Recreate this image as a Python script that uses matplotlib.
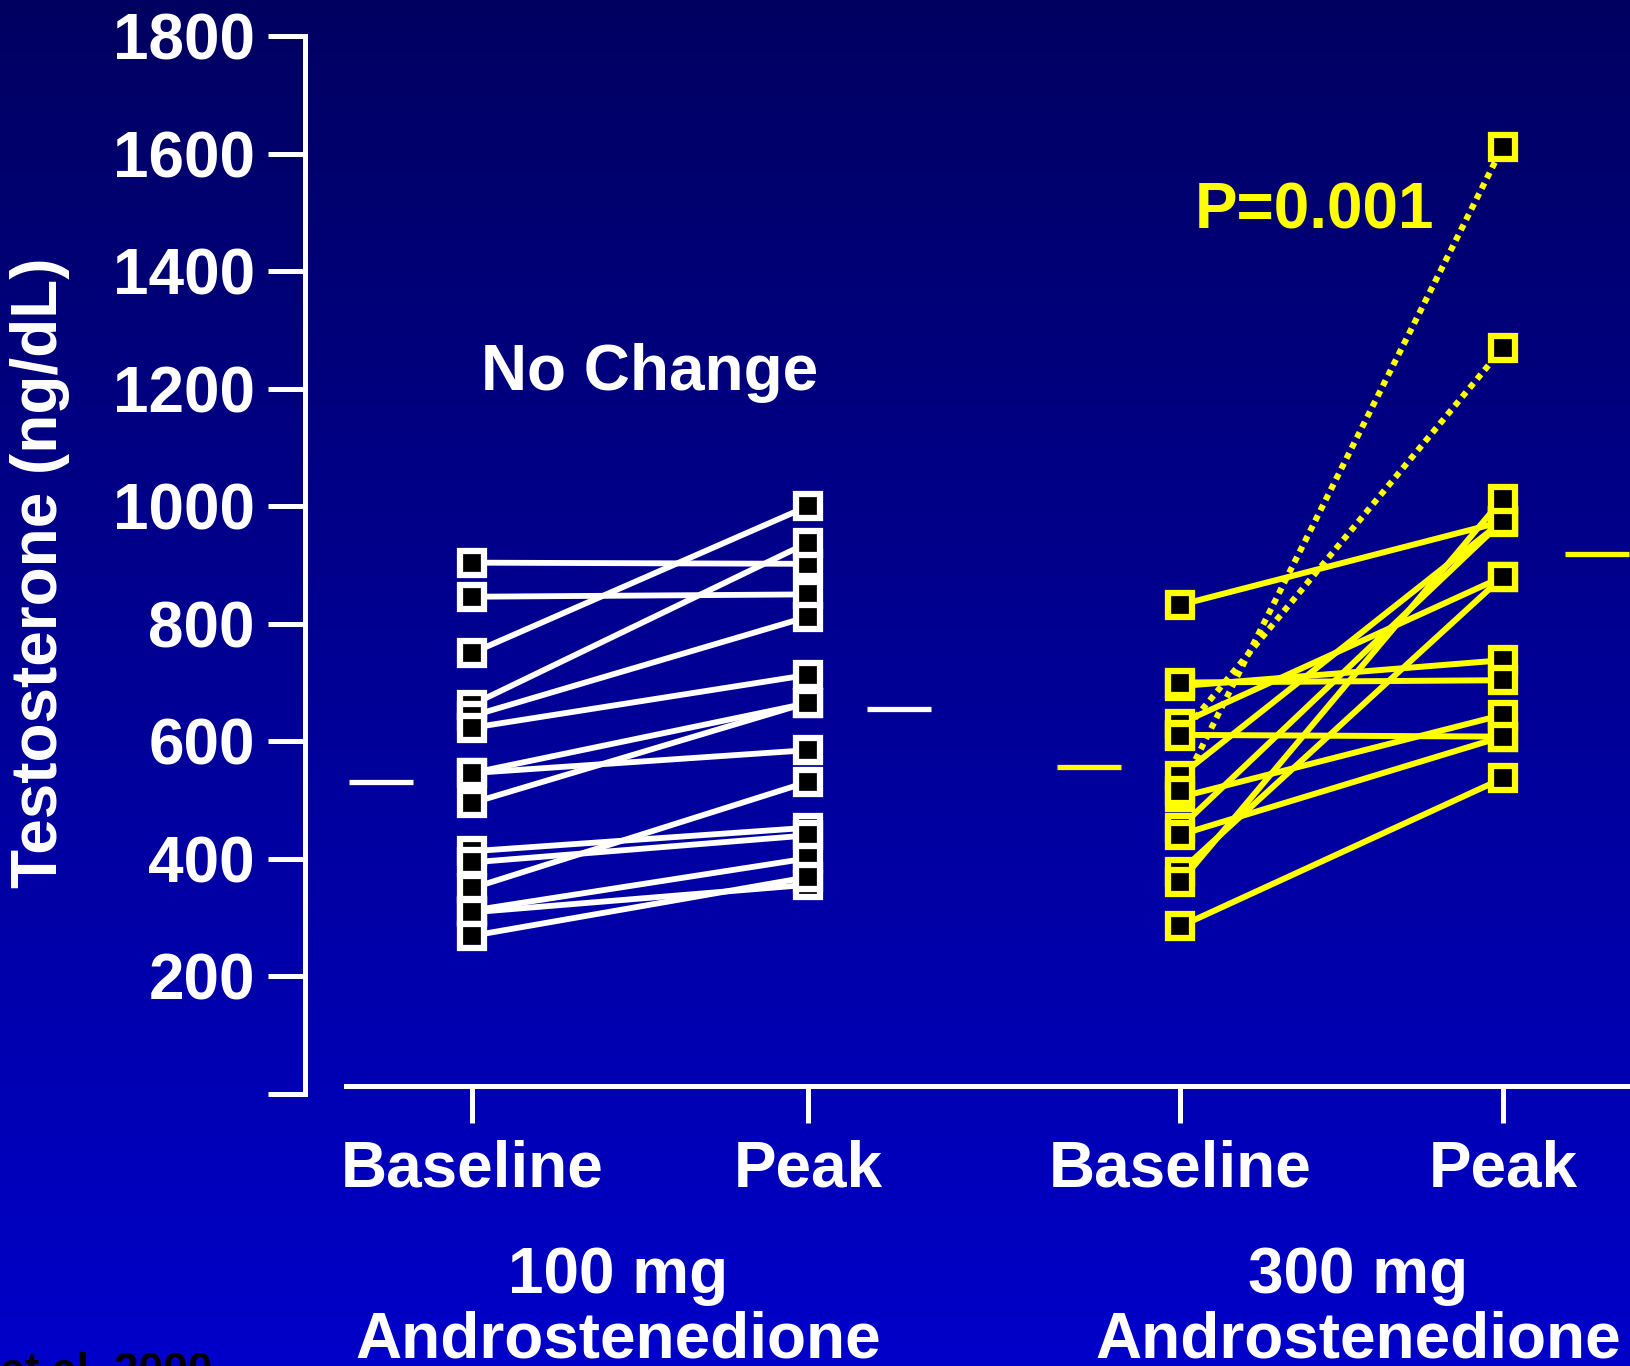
import numpy as np
import matplotlib
matplotlib.use('Agg')
import matplotlib.pyplot as plt

plt.rcParams['font.family'] = ['Liberation Sans', 'DejaVu Sans']
plt.rcParams['font.weight'] = 'bold'

# Testosterone (ng/dL), one entry per subject
dose100_baseline = [904, 846, 750, 662, 643, 623, 546, 546, 495, 413, 394, 350, 312, 309, 269]
dose100_peak = [902, 850, 1000, 938, 812, 713, 665, 585, 666, 453, 440, 531, 401, 356, 369]

dose300_baseline = [832, 694, 700, 630, 611, 541, 505, 453, 441, 378, 360, 285]
dose300_peak = [974, 738, 704, 880, 608, 975, 645, 975, 608, 880, 1013, 537]
# two subjects drawn with dotted lines
dose300_dot_baseline = [516, 609]
dose300_dot_peak = [1612, 1269]

# group means (baseline, peak)
dose100_mean = [531, 655]
dose300_mean = [556, 919]

tick_labels = ['Baseline', 'Peak', 'Baseline', 'Peak']
group_labels = ['100 mg\nAndrostenedione', '300 mg\nAndrostenedione']

W, H = 1630, 1366
WHITE = '#ffffff'
YELLOW = '#ffff00'
FS = 46

fig = plt.figure(figsize=(W / 100, H / 100), dpi=100)

# blue gradient backdrop
bg = fig.add_axes([0, 0, 1, 1], zorder=-10)
t = np.linspace(0, 1, 256)[:, None, None]
top = np.array([0.0, 0.0, 0.38])
bottom = np.array([0.0, 0.0, 0.79])
bg.imshow(top + (bottom - top) * t, aspect='auto', extent=[0, 1, 0, 1])
bg.axis('off')

# axes placed in pixel terms: y spine at x=305, 0..1800 spans y=1094..36
px_left, px_top, px_bot = 305, 36, 1094
ax = fig.add_axes([px_left / W, 1 - px_bot / H, (W - px_left) / W, (px_bot - px_top) / H])
ax.set_facecolor('none')

unit = 336.3                     # pixels per x unit
x0_px = 471.7                    # pixel of x = 1
xpos = [1.0, 2.0, 3.106, 4.066]  # Baseline / Peak for each dose
ax.set_xlim(1 - (x0_px - px_left) / unit, 1 + (W - x0_px) / unit)
ax.set_ylim(0, 1800)

for s in ['top', 'right']:
    ax.spines[s].set_visible(False)
ax.spines['left'].set_bounds(0, 1800)
ax.spines['left'].set_color(WHITE)
ax.spines['left'].set_linewidth(3.6)
ax.spines['bottom'].set_position(('data', 14))
ax.spines['bottom'].set_bounds(1 - (x0_px - 346) / unit, 1 + (W - x0_px) / unit)
ax.spines['bottom'].set_color(WHITE)
ax.spines['bottom'].set_linewidth(3.6)

yt = list(range(0, 1801, 200))
ax.set_yticks(yt)
ax.set_yticklabels(['' if v == 0 else str(v) for v in yt])
ax.tick_params(axis='y', direction='out', length=26.6, width=3.6, colors=WHITE,
               labelsize=FS, pad=9.4)
ax.set_xticks(xpos)
ax.set_xticklabels(tick_labels)
ax.tick_params(axis='x', direction='out', length=26.6, width=3.6, colors=WHITE,
               labelsize=FS, pad=12)

# subject lines first, squares on top
for b, p in zip(dose100_baseline, dose100_peak):
    ax.plot([xpos[0], xpos[1]], [b, p], color=WHITE, lw=4.2, solid_capstyle='butt', zorder=2)
for b, p in zip(dose300_baseline, dose300_peak):
    ax.plot([xpos[2], xpos[3]], [b, p], color=YELLOW, lw=4.3, solid_capstyle='butt', zorder=2)
for b, p in zip(dose300_dot_baseline, dose300_dot_peak):
    ax.plot([xpos[2], xpos[3]], [b, p], color=YELLOW, lw=4.4,
            linestyle=(0, (1.0, 0.9)), dash_capstyle='butt', zorder=2)

mk = dict(marker='s', ms=17.5, mfc='black', mew=4.5, linestyle='none', zorder=4, clip_on=False)
ax.plot([xpos[0]] * len(dose100_baseline), dose100_baseline, mec=WHITE, **mk)
ax.plot([xpos[1]] * len(dose100_peak), dose100_peak, mec=WHITE, **mk)
ax.plot([xpos[2]] * len(dose300_baseline + dose300_dot_baseline),
        dose300_baseline + dose300_dot_baseline, mec=YELLOW, **mk)
ax.plot([xpos[3]] * len(dose300_peak + dose300_dot_peak),
        dose300_peak + dose300_dot_peak, mec=YELLOW, **mk)

# mean dashes beside each column
half = 0.095
for x, off, m, c in [(xpos[0], -0.27, dose100_mean[0], WHITE),
                     (xpos[1], 0.27, dose100_mean[1], WHITE),
                     (xpos[2], -0.27, dose300_mean[0], YELLOW),
                     (xpos[3], 0.28, dose300_mean[1], YELLOW)]:
    ax.plot([x + off - half, x + off + half], [m, m], color=c, lw=3.8,
            solid_capstyle='butt', clip_on=False, zorder=3)

ax.text(1.528, 1198, 'No Change', ha='center', va='baseline', fontsize=FS, color=WHITE)
ax.text(3.151, 1473, 'P=0.001', ha='left', va='baseline', fontsize=FS, color=YELLOW)

fig.text(40 / W, 1 - 573 / H, 'Testosterone (ng/dL)', rotation=90, ha='center',
         va='center', fontsize=FS, color=WHITE)

for cx, lab in zip([618, 1358], group_labels):
    l1, l2 = lab.split('\n')
    fig.text(cx / W, 1 - 1293 / H, l1, ha='center', va='baseline', fontsize=FS, color=WHITE)
    fig.text(cx / W, 1 - 1358 / H, l2, ha='center', va='baseline', fontsize=FS, color=WHITE)

fig.text(213 / W, 1 - 1384 / H, 'et al. 2000', ha='right', va='baseline', fontsize=32,
         color='black')

fig.savefig('out.png', dpi=100)
